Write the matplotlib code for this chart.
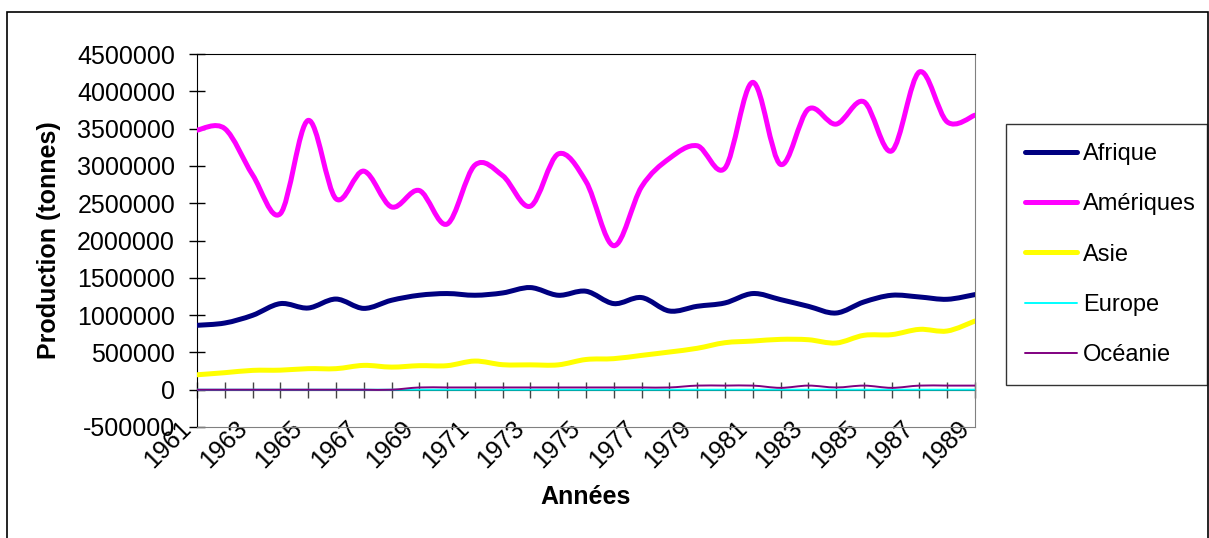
import numpy as np
import matplotlib
matplotlib.use("Agg")
import matplotlib.pyplot as plt
import matplotlib.ticker as mticker
import matplotlib.transforms as mtransforms
from matplotlib.path import Path
from matplotlib.patches import PathPatch, Rectangle
from matplotlib.lines import Line2D

plt.rcParams['font.family'] = ['Liberation Sans', 'DejaVu Sans']

years = list(range(1961, 1990))
afrique = [863000, 894000, 997000, 1154000, 1095000, 1215000, 1090000, 1199000, 1266000, 1289000,
           1266000, 1297000, 1369000, 1266000, 1320000, 1154000, 1235000, 1055000, 1118000, 1163000,
           1289000, 1208000, 1118000, 1028000, 1176000, 1266000, 1243000, 1212000, 1275000]
ameriques = [3480000, 3500000, 2880000, 2360000, 3610000, 2560000, 2930000, 2450000, 2670000, 2220000,
             3010000, 2870000, 2460000, 3160000, 2790000, 1930000, 2720000, 3100000, 3270000, 2970000,
             4120000, 3020000, 3760000, 3560000, 3860000, 3200000, 4260000, 3590000, 3680000]
asie = [200000, 228000, 259000, 262000, 282000, 282000, 326000, 303000, 322000, 322000,
        384000, 335000, 333000, 333000, 405000, 416000, 460000, 505000, 555000, 630000,
        652000, 675000, 670000, 626000, 729000, 738000, 809000, 787000, 921000]
europe = [0] * 29
oceanie = [0, 0, 0, 0, 0, 0, 0, 0, 30000, 30000,
           30000, 30000, 30000, 30000, 30000, 30000, 30000, 30000, 55000, 55000,
           55000, 25000, 55000, 30000, 55000, 25000, 55000, 55000, 55000]

names = ['Afrique', 'Amériques', 'Asie', 'Europe', 'Océanie']
series = [afrique, ameriques, asie, europe, oceanie]
colors = ['#000080', '#FF00FF', '#FFFF00', '#00FFFF', '#800080']
widths = [3.6, 3.6, 3.6, 1.4, 1.4]


def smooth_path(x, y):
    # bezier segments through every point, like the smoothed lines of a spreadsheet
    pts = np.column_stack([np.asarray(x, float), np.asarray(y, float)])
    n = len(pts)
    verts = [pts[0]]
    codes = [Path.MOVETO]
    for i in range(n - 1):
        p0 = pts[max(i - 1, 0)]
        p1 = pts[i]
        p2 = pts[i + 1]
        p3 = pts[min(i + 2, n - 1)]
        verts += [p1 + (p2 - p0) / 6.0, p2 - (p3 - p1) / 6.0, p2]
        codes += [Path.CURVE4] * 3
    return Path(verts, codes)


fig = plt.figure(figsize=(12.09, 5.38), dpi=100)
ax = fig.add_axes([197 / 1209, 1 - 427 / 538, (975 - 197) / 1209, (427 - 54) / 538])

for vals, c, w in zip(series, colors, widths):
    patch = PathPatch(smooth_path(years, vals), fill=False, edgecolor=c, lw=w,
                      capstyle='round', joinstyle='round', zorder=3)
    ax.add_patch(patch)

ax.set_xlim(years[0], years[-1])
ax.set_ylim(-500000, 4500000)
ax.yaxis.set_major_locator(mticker.MultipleLocator(500000))
ax.yaxis.set_major_formatter(mticker.FuncFormatter(lambda v, p: '%d' % round(v)))
ax.tick_params(axis='y', direction='inout', length=11.5, width=1, labelsize=18, pad=10)

ax.set_xticks(years[::2])
ax.set_xticklabels([str(y) for y in years[::2]], rotation=45, ha='right', va='top',
                   rotation_mode='anchor')
ax.tick_params(axis='x', length=0, pad=-8, labelsize=18)
shift = mtransforms.ScaledTranslation(-18 / 100, 0, fig.dpi_scale_trans)
for lab in ax.get_xticklabels():
    lab.set_transform(lab.get_transform() + shift)

# category axis crossing at zero
sec = ax.secondary_xaxis(0, transform=ax.transData)
sec.set_xticks(years)
sec.tick_params(direction='inout', length=11.5, width=1, color='#444444', labelbottom=False)
sec.spines['bottom'].set_color('black')

ax.spines['left'].set_color('black')
ax.spines['top'].set_color('black')
ax.spines['right'].set_color('#808080')
ax.spines['bottom'].set_color('#808080')

ax.set_ylabel('Production (tonnes)', fontsize=18, fontweight='bold')
ax.yaxis.set_label_coords(-0.175, 0.5)
ax.set_xlabel('Années', fontsize=18, fontweight='bold')
ax.xaxis.set_label_coords(0.5, -0.155)

handles = [Line2D([], [], color=c, lw=w, solid_capstyle='round') for c, w in zip(colors, widths)]
leg = fig.legend(handles, names, loc='upper left',
                 bbox_to_anchor=(1006 / 1209, 1 - 383 / 538, (1207 - 1006) / 1209, (383 - 124) / 538),
                 mode='expand', borderaxespad=0, fontsize=17, frameon=True, fancybox=False,
                 edgecolor='black', handlelength=2.2, handletextpad=0.25, labelspacing=1.2,
                 borderpad=0.8)
leg.get_frame().set_linewidth(1.0)

fig.add_artist(Rectangle((7 / 1209, -0.05), (1208 - 7) / 1209, 1 - 12 / 538 + 0.05,
                         transform=fig.transFigure, fill=False, edgecolor='black', lw=1.2))

fig.savefig('out.png', dpi=100)
